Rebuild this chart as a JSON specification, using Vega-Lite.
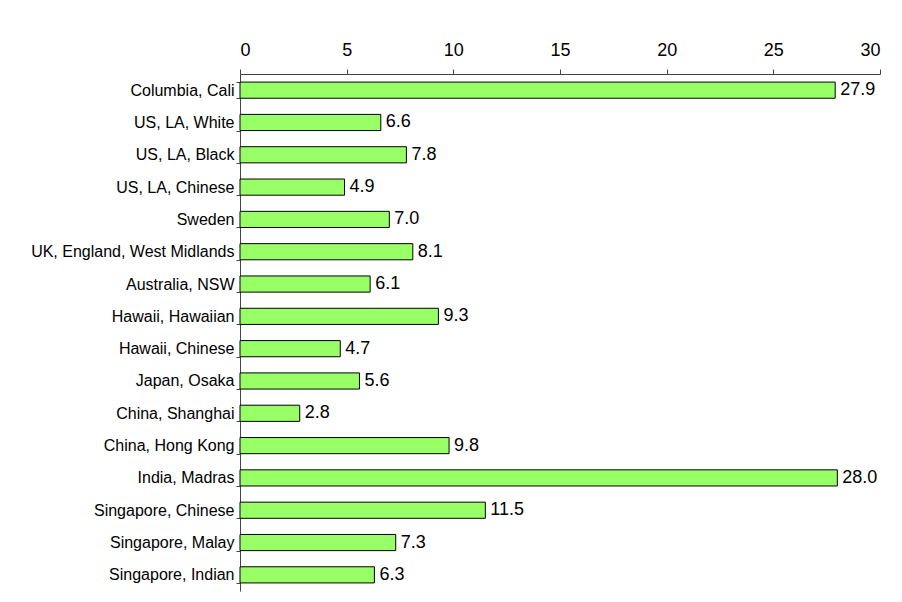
{
  "$schema": "https://vega.github.io/schema/vega-lite/v6.json",
  "width": 640,
  "height": 517,
  "autosize": "none",
  "padding": {"left": 240, "top": 74, "right": 22, "bottom": 11},
  "background": "white",
  "config": {
    "view": {"stroke": null},
    "font": "Liberation Sans"
  },
  "data": {
    "values": [
      {"region": "Columbia, Cali", "value": 27.9},
      {"region": "US, LA, White", "value": 6.6},
      {"region": "US, LA, Black", "value": 7.8},
      {"region": "US, LA, Chinese", "value": 4.9},
      {"region": "Sweden", "value": 7.0},
      {"region": "UK, England, West Midlands", "value": 8.1},
      {"region": "Australia, NSW", "value": 6.1},
      {"region": "Hawaii, Hawaiian", "value": 9.3},
      {"region": "Hawaii, Chinese", "value": 4.7},
      {"region": "Japan, Osaka", "value": 5.6},
      {"region": "China, Shanghai", "value": 2.8},
      {"region": "China, Hong Kong", "value": 9.8},
      {"region": "India, Madras", "value": 28.0},
      {"region": "Singapore, Chinese", "value": 11.5},
      {"region": "Singapore, Malay", "value": 7.3},
      {"region": "Singapore, Indian", "value": 6.3}
    ]
  },
  "encoding": {
    "y": {
      "field": "region",
      "type": "nominal",
      "sort": null,
      "scale": {"paddingInner": 0.5, "paddingOuter": 0.25},
      "axis": {
        "title": null,
        "tickBand": "extent",
        "labelFontSize": 16,
        "labelColor": "#000000",
        "labelFont": "Liberation Sans",
        "labelPadding": 2,
        "tickSize": 4,
        "tickColor": "#444444",
        "domainColor": "#444444",
        "labelLimit": 300
      }
    },
    "x": {
      "field": "value",
      "type": "quantitative",
      "scale": {"domain": [0, 30], "nice": false},
      "axis": {
        "orient": "top",
        "title": null,
        "values": [0, 5, 10, 15, 20, 25, 30],
        "grid": false,
        "labelFontSize": 18,
        "labelColor": "#000000",
        "labelFont": "Liberation Sans",
        "labelPadding": 10,
        "tickSize": 5,
        "tickColor": "#444444",
        "domainColor": "#444444"
      }
    }
  },
  "layer": [
    {
      "mark": {"type": "bar", "fill": "#99FF66", "stroke": "#000000", "strokeWidth": 1}
    },
    {
      "mark": {"type": "text", "align": "left", "baseline": "middle", "dx": 5, "fontSize": 18, "font": "Liberation Sans", "color": "#000000"},
      "encoding": {
        "text": {"field": "value", "type": "quantitative", "format": ".1f"}
      }
    }
  ]
}
